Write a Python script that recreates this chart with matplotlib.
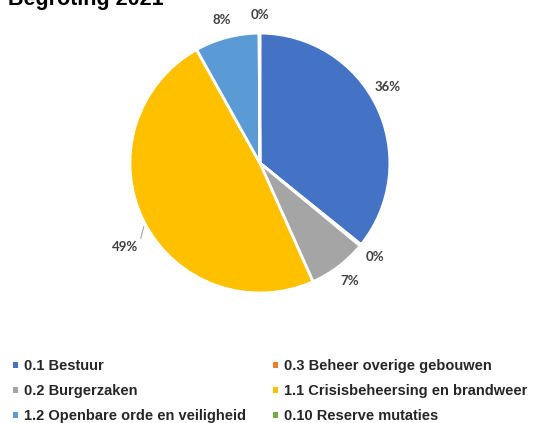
import numpy as np
import matplotlib.pyplot as plt
from matplotlib.patches import Patch

TITLE = "Begroting 2021"
CATEGORIES = ["0.1 Bestuur", "0.3 Beheer overige gebouwen", "0.2 Burgerzaken",
              "1.1 Crisisbeheersing en brandweer", "1.2 Openbare orde en veiligheid",
              "0.10 Reserve mutaties"]
VALUES = [35.8, 0.2, 7.3, 48.6, 8.0, 0.1]
COLORS = ["#4472C4", "#ED7D31", "#A5A5A5", "#FFC000", "#5B9BD5", "#70AD47"]
# legend is filled row by row in the original
LEGEND_ORDER = [0, 2, 4, 1, 3, 5]


def main():
    fig = plt.figure(figsize=(5.37, 4.23), dpi=100)
    ax = fig.add_axes([0.242, 0.307, 0.484, 0.615])

    wedges, _ = ax.pie(VALUES, colors=COLORS, startangle=90, counterclock=False,
                       radius=1.0, wedgeprops=dict(edgecolor="white", linewidth=2))
    ax.set_xlim(-1, 1)
    ax.set_ylim(-1, 1)
    ax.axis("off")

    total = sum(VALUES)
    for i, w in enumerate(wedges):
        ang = np.deg2rad((w.theta1 + w.theta2) / 2)
        pct = "%d%%" % round(VALUES[i] / total * 100)
        if i == 3:
            # big slice gets a leader line
            ex, ey = np.cos(ang), np.sin(ang)
            ax.annotate(pct, xy=(ex, ey - 0.04), xytext=(ex - 0.04, ey - 0.2),
                        ha="right", va="center", fontsize=9.5, family="Lato",
                        fontweight="bold", color="#404040",
                        arrowprops=dict(arrowstyle="-", color="#A6A6A6", lw=0.8,
                                        shrinkA=0, shrinkB=0,
                                        relpos=(1.0, 0.5)))
            continue
        r = 1.14
        if i == 0:
            ang += 0.09
        ax.text(r * np.cos(ang), r * np.sin(ang), pct, ha="center", va="center",
                fontsize=9.5, family="Lato", fontweight="bold", color="#404040")

    fig.text(0.015, 0.988, TITLE, ha="left", va="baseline", fontsize=15.5,
             fontweight="bold", family="Liberation Sans", color="black")

    handles = [Patch(facecolor=COLORS[i], edgecolor="none", label=CATEGORIES[i])
               for i in LEGEND_ORDER]
    fig.legend(handles=handles, ncol=2, loc="upper left", bbox_to_anchor=(0.006, 0.175),
               frameon=False, handlelength=0.3, handleheight=0.3, handletextpad=0.4,
               columnspacing=1.9, labelspacing=0.76, borderpad=0.2,
               prop=dict(family="Liberation Sans", weight="bold", size=10.5),
               labelcolor="#262626")

    fig.savefig("out.png", dpi=100)


if __name__ == "__main__":
    main()
